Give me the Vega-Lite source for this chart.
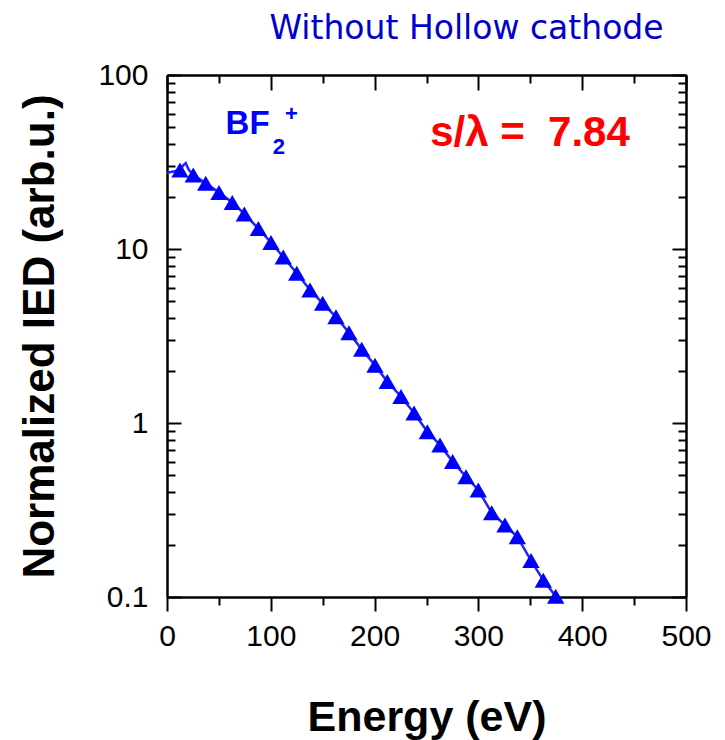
{
  "$schema": "https://vega.github.io/schema/vega-lite/v6.json",
  "autosize": {"type": "none"},
  "padding": {"left": 167, "top": 75, "right": 39, "bottom": 143},
  "width": 519,
  "height": 522,
  "background": "white",
  "config": {"view": {"stroke": null}},
  "title": {
    "text": "Without Hollow cathode",
    "font": "DejaVu Sans",
    "fontSize": 33,
    "fontWeight": "normal",
    "color": "#0000CC",
    "anchor": "middle",
    "dx": 40,
    "offset": 14
  },
  "datasets": {
    "tri": [
      {"E": 12.5, "v": 28.4}, {"E": 25.3, "v": 26.6}, {"E": 37.3, "v": 23.9}, {"E": 50.1, "v": 21.1},
      {"E": 62.9, "v": 18.5}, {"E": 74.5, "v": 15.9}, {"E": 88.0, "v": 13.1}, {"E": 100.2, "v": 10.9},
      {"E": 112.0, "v": 9.0}, {"E": 125.0, "v": 7.25}, {"E": 137.8, "v": 5.81}, {"E": 150.0, "v": 4.87},
      {"E": 162.8, "v": 4.08}, {"E": 175.3, "v": 3.30}, {"E": 187.6, "v": 2.65}, {"E": 200.4, "v": 2.15},
      {"E": 212.2, "v": 1.73}, {"E": 225.4, "v": 1.42}, {"E": 238.0, "v": 1.14}, {"E": 250.8, "v": 0.891},
      {"E": 263.0, "v": 0.748}, {"E": 275.2, "v": 0.600}, {"E": 288.1, "v": 0.491}, {"E": 299.9, "v": 0.412},
      {"E": 312.8, "v": 0.305}, {"E": 325.6, "v": 0.259}, {"E": 337.5, "v": 0.222}, {"E": 350.7, "v": 0.162},
      {"E": 362.5, "v": 0.125}, {"E": 374.5, "v": 0.101}
    ],
    "line": [
      {"E": 0, "v": 27.4}, {"E": 5, "v": 27.8}, {"E": 10, "v": 28.2}, {"E": 13, "v": 28.6},
      {"E": 15.5, "v": 30.2}, {"E": 18, "v": 31.2}, {"E": 21, "v": 28.5}, {"E": 25.3, "v": 26.6},
      {"E": 37.3, "v": 23.9}, {"E": 50.1, "v": 21.1}, {"E": 62.9, "v": 18.5}, {"E": 74.5, "v": 15.9},
      {"E": 88.0, "v": 13.1}, {"E": 100.2, "v": 10.9}, {"E": 112.0, "v": 9.0}, {"E": 125.0, "v": 7.25},
      {"E": 137.8, "v": 5.81}, {"E": 150.0, "v": 4.87}, {"E": 162.8, "v": 4.08}, {"E": 175.3, "v": 3.30},
      {"E": 187.6, "v": 2.65}, {"E": 200.4, "v": 2.15}, {"E": 212.2, "v": 1.73}, {"E": 225.4, "v": 1.42},
      {"E": 238.0, "v": 1.14}, {"E": 250.8, "v": 0.891}, {"E": 263.0, "v": 0.748}, {"E": 275.2, "v": 0.600},
      {"E": 288.1, "v": 0.491}, {"E": 299.9, "v": 0.412}, {"E": 312.8, "v": 0.305}, {"E": 325.6, "v": 0.259},
      {"E": 337.5, "v": 0.222}, {"E": 350.7, "v": 0.162}, {"E": 362.5, "v": 0.125}, {"E": 374.5, "v": 0.101},
      {"E": 380, "v": 0.088}
    ],
    "notes": [
      {"key": "bf", "E": 77.6, "v": 52.2, "label": "BF"},
      {"key": "sub", "E": 107.7, "v": 38.6, "label": "2"},
      {"key": "sup", "E": 119.8, "v": 59.4, "label": "+"},
      {"key": "ratio", "E": 349.7, "v": 46.4, "label": "s/λ = \u00a07.84"}
    ]
  },
  "resolve": {"axis": {"x": "independent", "y": "independent"}},
  "layer": [
    {
      "data": {"name": "line"},
      "mark": {"type": "line", "color": "#2222FF", "strokeWidth": 2.5, "clip": true},
      "encoding": {
        "x": {"field": "E", "type": "quantitative",
          "scale": {"domain": [0, 500], "nice": false},
          "axis": {"orient": "bottom", "values": [0, 100, 200, 300, 400, 500], "title": "Energy (eV)",
            "grid": false, "tickSize": 14, "tickWidth": 2, "tickColor": "black", "domainWidth": 2, "domainColor": "black",
            "labelFont": "Liberation Sans", "labelFontSize": 30, "labelColor": "black", "labelPadding": 10,
            "labelFlush": false,
            "titleFont": "Liberation Sans", "titleFontSize": 43, "titleFontWeight": "bold", "titleColor": "black", "titlePadding": 45}},
        "y": {"field": "v", "type": "quantitative",
          "scale": {"type": "log", "domain": [0.1, 100], "nice": false},
          "axis": {"orient": "left", "values": [0.1, 1, 10, 100], "title": "Normalized IED (arb.u.)",
            "format": "~g",
            "grid": false, "tickSize": -14, "tickWidth": 2, "tickColor": "black", "domainWidth": 2, "domainColor": "black",
            "labelFont": "Liberation Sans", "labelFontSize": 30, "labelColor": "black", "labelPadding": 33,
            "labelFlush": false,
            "titleFont": "Liberation Sans", "titleFontSize": 44, "titleFontWeight": "bold", "titleColor": "black", "titlePadding": 35}}
      }
    },
    {
      "data": {"name": "tri"},
      "mark": {"type": "point", "shape": "triangle-up", "filled": true, "color": "#0000FF", "opacity": 1, "size": 300},
      "encoding": {
        "x": {"field": "E", "type": "quantitative",
          "scale": {"domain": [0, 500], "nice": false},
          "axis": {"orient": "top", "values": [0, 100, 200, 300, 400, 500], "title": null, "labels": false,
            "grid": false, "tickSize": -15, "tickWidth": 2, "tickColor": "black", "domainWidth": 2, "domainColor": "black"}},
        "y": {"field": "v", "type": "quantitative",
          "scale": {"type": "log", "domain": [0.1, 100], "nice": false},
          "axis": {"orient": "right", "values": [0.1, 1, 10, 100], "title": null, "labels": false,
            "grid": false, "tickSize": -14, "tickWidth": 2, "tickColor": "black", "domainWidth": 2, "domainColor": "black"}}
      }
    },
    {
      "data": {"name": "notes"},
      "transform": [{"filter": "datum.key === 'bf'"}],
      "mark": {"type": "text", "font": "Liberation Sans", "fontWeight": "bold", "fontSize": 33, "color": "#0000FF", "align": "center", "baseline": "middle"},
      "encoding": {
        "text": {"field": "label"},
        "x": {"field": "E", "type": "quantitative",
          "scale": {"domain": [0, 500], "nice": false},
          "axis": {"orient": "bottom", "values": [50, 150, 250, 350, 450], "title": null, "labels": false,
            "grid": false, "tickSize": 8, "tickWidth": 2, "tickColor": "black", "domainWidth": 2, "domainColor": "black"}},
        "y": {"field": "v", "type": "quantitative",
          "scale": {"type": "log", "domain": [0.1, 100], "nice": false},
          "axis": {"orient": "left", "values": [0.2, 0.3, 0.4, 0.5, 0.6, 0.7, 0.8, 0.9, 2, 3, 4, 5, 6, 7, 8, 9, 20, 30, 40, 50, 60, 70, 80, 90],
            "title": null, "labels": false,
            "grid": false, "tickSize": -8, "tickWidth": 2, "tickColor": "black", "domainWidth": 2, "domainColor": "black"}}
      }
    },
    {
      "data": {"name": "notes"},
      "transform": [{"filter": "datum.key === 'sub'"}],
      "mark": {"type": "text", "font": "Liberation Sans", "fontWeight": "bold", "fontSize": 22, "color": "#0000FF", "align": "center", "baseline": "middle"},
      "encoding": {
        "text": {"field": "label"},
        "x": {"field": "E", "type": "quantitative",
          "scale": {"domain": [0, 500], "nice": false},
          "axis": {"orient": "top", "values": [50, 150, 250, 350, 450], "title": null, "labels": false,
            "grid": false, "tickSize": -8, "tickWidth": 2, "tickColor": "black", "domainWidth": 2, "domainColor": "black"}},
        "y": {"field": "v", "type": "quantitative",
          "scale": {"type": "log", "domain": [0.1, 100], "nice": false},
          "axis": {"orient": "right", "values": [0.2, 0.3, 0.4, 0.5, 0.6, 0.7, 0.8, 0.9, 2, 3, 4, 5, 6, 7, 8, 9, 20, 30, 40, 50, 60, 70, 80, 90],
            "title": null, "labels": false,
            "grid": false, "tickSize": -8, "tickWidth": 2, "tickColor": "black", "domainWidth": 2, "domainColor": "black"}}
      }
    },
    {
      "data": {"name": "notes"},
      "transform": [{"filter": "datum.key === 'sup'"}],
      "mark": {"type": "text", "font": "Liberation Sans", "fontWeight": "bold", "fontSize": 22, "color": "#0000FF", "align": "center", "baseline": "middle"},
      "encoding": {
        "text": {"field": "label"},
        "x": {"field": "E", "type": "quantitative", "scale": {"domain": [0, 500], "nice": false}, "axis": null},
        "y": {"field": "v", "type": "quantitative", "scale": {"type": "log", "domain": [0.1, 100], "nice": false}, "axis": null}
      }
    },
    {
      "data": {"name": "notes"},
      "transform": [{"filter": "datum.key === 'ratio'"}],
      "mark": {"type": "text", "font": "Liberation Sans", "fontWeight": "bold", "fontSize": 42, "color": "#FF0000", "align": "center", "baseline": "middle"},
      "encoding": {
        "text": {"field": "label"},
        "x": {"field": "E", "type": "quantitative", "scale": {"domain": [0, 500], "nice": false}, "axis": null},
        "y": {"field": "v", "type": "quantitative", "scale": {"type": "log", "domain": [0.1, 100], "nice": false}, "axis": null}
      }
    }
  ]
}
